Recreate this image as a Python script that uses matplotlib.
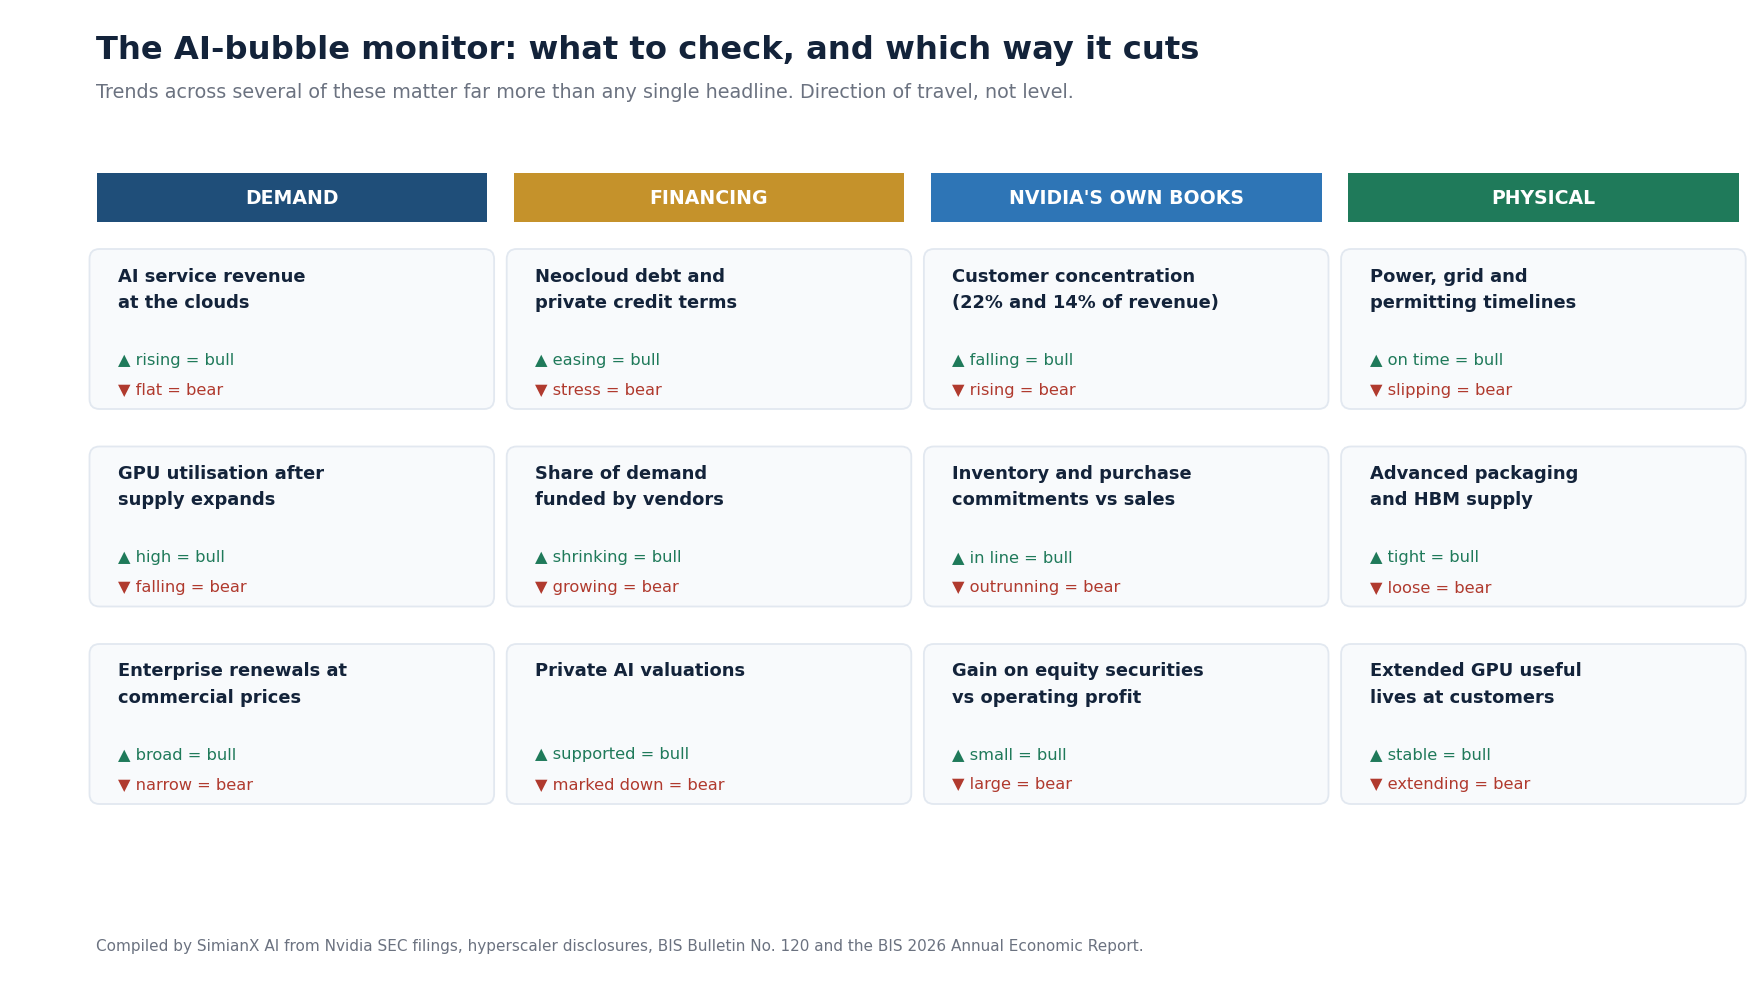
import matplotlib

matplotlib.use("Agg")
import matplotlib.pyplot as plt
from matplotlib.patches import FancyBboxPatch, Rectangle

# ---- chart content -------------------------------------------------------
TITLE = "The AI-bubble monitor: what to check, and which way it cuts"
SUBTITLE = ("Trends across several of these matter far more than any single headline. "
            "Direction of travel, not level.")
FOOTER = ("Compiled by SimianX AI from Nvidia SEC filings, hyperscaler disclosures, "
          "BIS Bulletin No. 120 and the BIS 2026 Annual Economic Report.")

categories = ["DEMAND", "FINANCING", "NVIDIA'S OWN BOOKS", "PHYSICAL"]
category_colors = ["#1f4e79", "#c5922b", "#2e75b6", "#1f7a5a"]

# one list per column, top to bottom
card_titles = [
    ["AI service revenue\nat the clouds",
     "GPU utilisation after\nsupply expands",
     "Enterprise renewals at\ncommercial prices"],
    ["Neocloud debt and\nprivate credit terms",
     "Share of demand\nfunded by vendors",
     "Private AI valuations"],
    ["Customer concentration\n(22% and 14% of revenue)",
     "Inventory and purchase\ncommitments vs sales",
     "Gain on equity securities\nvs operating profit"],
    ["Power, grid and\npermitting timelines",
     "Advanced packaging\nand HBM supply",
     "Extended GPU useful\nlives at customers"],
]
bull_signals = [
    ["rising", "high", "broad"],
    ["easing", "shrinking", "supported"],
    ["falling", "in line", "small"],
    ["on time", "tight", "stable"],
]
bear_signals = [
    ["flat", "falling", "narrow"],
    ["stress", "growing", "marked down"],
    ["rising", "outrunning", "large"],
    ["slipping", "loose", "extending"],
]

# ---- styling ---------------------------------------------------------------
NAVY = "#13233a"
GREY = "#6b7280"
BULL = "#1f7a5a"
BEAR = "#b03a2e"
CARD_FILL = "#f8fafc"
CARD_EDGE = "#e2e8f0"

W, H = 1760, 990
LEFT = 96.5
COL_W = 390.6
COL_STEP = 417.2
HEAD_TOP, HEAD_H = 173, 49
CARD_TOP, CARD_H, ROW_STEP = 249, 160, 197.5
CARD_OUT = 7

fig = plt.figure(figsize=(W / 100, H / 100), dpi=100)
ax = fig.add_axes([0, 0, 1, 1])
ax.set_xlim(0, W)
ax.set_ylim(H, 0)
ax.axis("off")

ax.text(LEFT, 50, TITLE, fontsize=23.2, fontweight="bold", color=NAVY, va="center")
ax.text(LEFT, 93, SUBTITLE, fontsize=13.8, color=GREY, va="center")

for c, (cat, color) in enumerate(zip(categories, category_colors)):
    x0 = LEFT + c * COL_STEP
    ax.add_patch(Rectangle((x0, HEAD_TOP), COL_W, HEAD_H, facecolor=color, edgecolor="none"))
    ax.text(x0 + COL_W / 2, HEAD_TOP + HEAD_H / 2 + 1, cat, fontsize=13.6, fontweight="bold",
            color="white", ha="center", va="center")

    for r in range(len(card_titles[c])):
        y0 = CARD_TOP + r * ROW_STEP
        cx = x0 - CARD_OUT
        cw = COL_W + 2 * CARD_OUT
        ax.add_patch(FancyBboxPatch((cx + 10, y0 + 10), cw - 20, CARD_H - 20,
                                    boxstyle="round,pad=10", facecolor=CARD_FILL,
                                    edgecolor=CARD_EDGE, linewidth=1.3))
        tx = x0 + 21.5
        ax.text(tx, y0 + 18.5, card_titles[c][r], fontsize=12.9, fontweight="bold", color=NAVY,
                va="top", linespacing=1.6)
        ax.text(tx, y0 + 111, "\u25b2 " + bull_signals[c][r] + " = bull", fontsize=11.7,
                color=BULL, va="center")
        ax.text(tx, y0 + 141, "\u25bc " + bear_signals[c][r] + " = bear", fontsize=11.7,
                color=BEAR, va="center")

ax.text(LEFT, 946, FOOTER, fontsize=11, color=GREY, va="center")

fig.savefig("out.png", dpi=100, facecolor="white")
plt.close(fig)
